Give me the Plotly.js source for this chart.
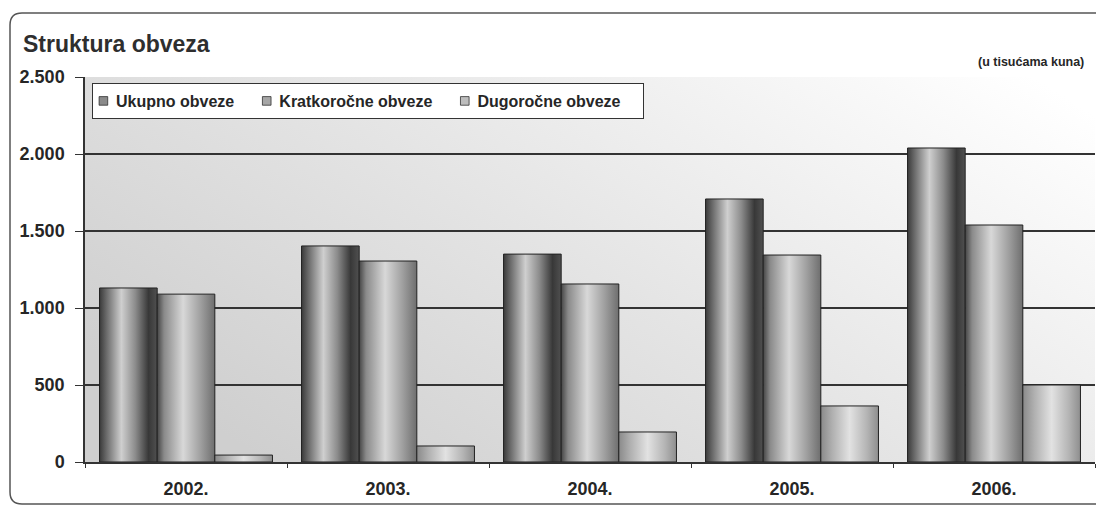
<!DOCTYPE html>
<html>
<head>
<meta charset="utf-8">
<script src="https://cdn.plot.ly/plotly-3.0.1.min.js"></script>
<style>
html,body{margin:0;padding:0;background:#fff;}
#chart{width:1096px;height:508px;}
</style>
</head>
<body>
<div id="chart"></div>
<script>
const years = ['2002.', '2003.', '2004.', '2005.', '2006.'];
const ukupno = [1130, 1403, 1350, 1708, 2039];
const kratkorocne = [1090, 1305, 1156, 1344, 1539];
const dugorocne = [45, 104, 195, 364, 500];
const seriesNames = ['Ukupno obveze', 'Kratkoročne obveze', 'Dugoročne obveze'];
const yTicks = [0, 500, 1000, 1500, 2000, 2500];

const W = 1096, H = 508;
const L = 85, R = 1, T = 77, B = 46;
const pw = W - L - R, ph = H - T - B;
function px(x){ return (x - L) / pw; }
function py(y){ return (H - B - y) / ph; }

const font = 'Liberation Sans, Arial, sans-serif';
const baseColors = ['#8a8a8a', '#a6a6a6', '#bdbdbd'];
const seriesData = [ukupno, kratkorocne, dugorocne];

const traces = seriesData.map((vals, i) => ({
  type: 'bar',
  name: seriesNames[i],
  x: years,
  y: vals,
  marker: {color: baseColors[i], line: {color: '#222', width: 1}},
  hovertemplate: '%{x}: %{y:,d}<extra>' + seriesNames[i] + '</extra>'
}));

const r = 12;
const top0 = 13, bot0 = 504, left0 = 10;
const border = 'M ' + px(left0) + ' ' + py(top0 + r) +
  ' Q ' + px(left0) + ' ' + py(top0) + ' ' + px(left0 + r) + ' ' + py(top0) +
  ' L ' + px(1110) + ' ' + py(top0) +
  ' L ' + px(1110) + ' ' + py(bot0) +
  ' L ' + px(left0 + r) + ' ' + py(bot0) +
  ' Q ' + px(left0) + ' ' + py(bot0) + ' ' + px(left0) + ' ' + py(bot0 - r) + ' Z';

const layout = {
  width: W, height: H,
  margin: {l: L, r: R, t: T, b: B, pad: 0},
  paper_bgcolor: '#ffffff',
  plot_bgcolor: '#e6e6e6',
  separators: ',.',
  barmode: 'group',
  bargap: 0.144,
  bargroupgap: 0,
  showlegend: true,
  title: {
    text: '<b>Struktura obveza</b>',
    x: 23 / W, xanchor: 'left', xref: 'container',
    y: 1 - 44 / H, yanchor: 'middle', yref: 'container',
    font: {family: font, size: 23, color: '#2e2e2e'}
  },
  xaxis: {
    type: 'category',
    tickson: 'boundaries',
    ticks: 'outside', ticklen: 4, tickcolor: '#333',
    showline: true, linecolor: '#333', linewidth: 1.5,
    showgrid: false,
    ticklabelstandoff: 10,
    tickfont: {family: font, size: 18, color: '#262626', weight: 'bold'},
    fixedrange: true
  },
  yaxis: {
    range: [0, 2500],
    tickvals: yTicks,
    tickformat: ',d',
    ticks: 'outside', ticklen: 8, tickcolor: '#333',
    showline: true, linecolor: '#333', linewidth: 1.5,
    showgrid: true, gridcolor: '#333333', gridwidth: 1.5,
    zeroline: false,
    ticklabelstandoff: 7,
    tickfont: {family: font, size: 18, color: '#262626', weight: 'bold'},
    fixedrange: true
  },
  legend: {
    orientation: 'h',
    x: px(92), xanchor: 'left',
    y: py(83), yanchor: 'top',
    bgcolor: '#ffffff', bordercolor: '#333', borderwidth: 1,
    font: {family: font, size: 16, color: '#262626', weight: 'bold'},
    itemwidth: 30,
    traceorder: 'normal'
  },
  annotations: [{
    text: '<b>(u tisućama kuna)</b>',
    xref: 'paper', yref: 'paper',
    x: px(1086), y: py(62), xanchor: 'right', yanchor: 'middle',
    showarrow: false,
    font: {family: font, size: 12.5, color: '#262626'}
  }],
  shapes: [{
    type: 'path', xref: 'paper', yref: 'paper',
    path: border,
    line: {color: '#555', width: 1.5},
    fillcolor: 'rgba(0,0,0,0)',
    layer: 'below'
  }]
};

const grads = {
  g0: [[0, '#3a3a3a'], [0.12, '#6a6a6a'], [0.38, '#cfcfcf'], [0.62, '#8c8c8c'], [0.85, '#383838'], [1, '#505050']],
  g1: [[0, '#454545'], [0.12, '#8a8a8a'], [0.45, '#d8d8d8'], [0.75, '#a0a0a0'], [1, '#6e6e6e']],
  g2: [[0, '#8a8a8a'], [0.2, '#b0b0b0'], [0.5, '#e2e2e2'], [0.8, '#b4b4b4'], [1, '#8e8e8e']],
  bg: [[0, '#cfcfcf'], [0.45, '#e4e4e4'], [1, '#ffffff']]
};

function applyStyles(gd) {
  const svg = gd.querySelector('svg.main-svg');
  if (!svg) return;
  let defs = svg.querySelector('defs');
  const NS = 'http://www.w3.org/2000/svg';
  if (!defs) { defs = document.createElementNS(NS, 'defs'); svg.insertBefore(defs, svg.firstChild); }
  Object.keys(grads).forEach(id => {
    if (svg.querySelector('#grad-' + id)) return;
    const lg = document.createElementNS(NS, 'linearGradient');
    lg.setAttribute('id', 'grad-' + id);
    if (id === 'bg') {
      lg.setAttribute('x1', '0'); lg.setAttribute('y1', '0.7');
      lg.setAttribute('x2', '1'); lg.setAttribute('y2', '0.1');
    } else {
      lg.setAttribute('x1', '0'); lg.setAttribute('y1', '0');
      lg.setAttribute('x2', '1'); lg.setAttribute('y2', '0');
    }
    grads[id].forEach(s => {
      const st = document.createElementNS(NS, 'stop');
      st.setAttribute('offset', s[0]);
      st.setAttribute('stop-color', s[1]);
      lg.appendChild(st);
    });
    defs.appendChild(lg);
  });
  const tr = gd.querySelectorAll('.barlayer .trace');
  tr.forEach((t, i) => {
    t.querySelectorAll('.point path').forEach(p => { p.style.fill = 'url(#grad-g' + i + ')'; });
  });
  const bg = gd.querySelector('.bglayer rect.bg');
  if (bg) bg.style.fill = 'url(#grad-bg)';
  // legend: smaller symbols closer to the text, as in the reference
  gd.querySelectorAll('.legend .traces').forEach(t => {
    if (t.dataset.adj) return;
    t.dataset.adj = '1';
    const pts = t.querySelector('.legendpoints');
    if (pts) {
      const old = pts.getAttribute('transform') || '';
      pts.setAttribute('transform', old + ' translate(-4,0) scale(0.72)');
    }
    const txt = t.querySelector('text.legendtext');
    if (txt) {
      const x = parseFloat(txt.getAttribute('x') || '40');
      txt.setAttribute('x', x - 17);
    }
  });
}

const gd = document.getElementById('chart');
Plotly.newPlot(gd, traces, layout, {displayModeBar: false, responsive: false}).then(() => {
  applyStyles(gd);
  gd.on('plotly_afterplot', () => applyStyles(gd));
});
</script>
</body>
</html>
